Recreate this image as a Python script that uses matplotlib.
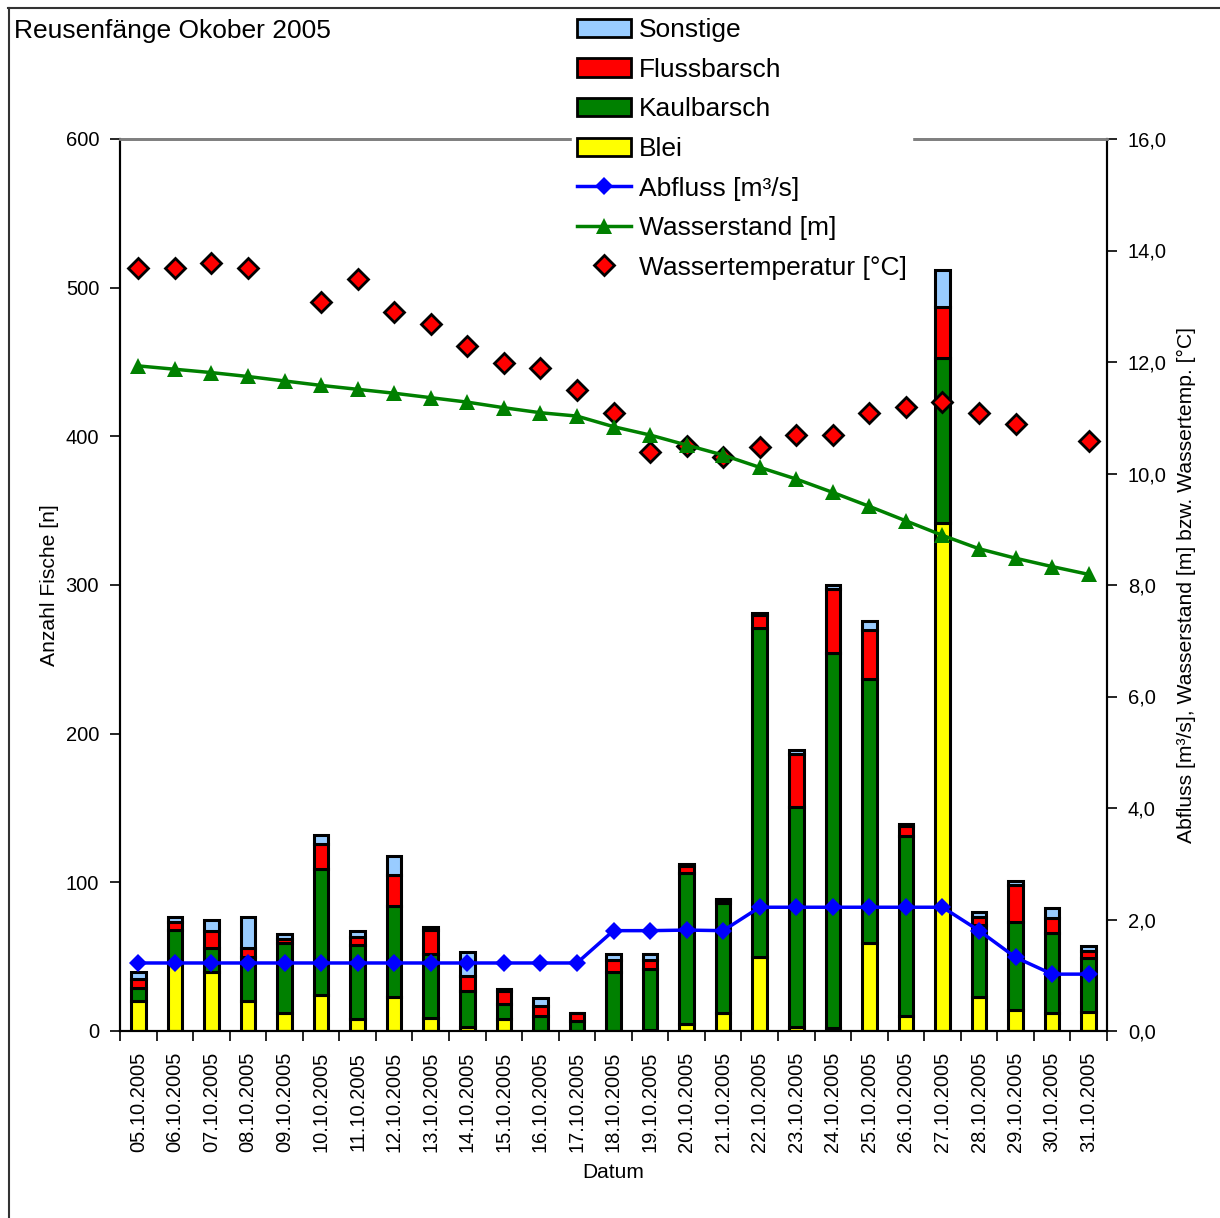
import matplotlib
matplotlib.use("Agg")
import matplotlib.pyplot as plt
import numpy as np
from matplotlib.lines import Line2D
from matplotlib.patches import Patch
from matplotlib.ticker import FuncFormatter, MultipleLocator

plt.rcParams['font.family'] = ['Liberation Sans', 'DejaVu Sans']

# --- Data ---
dates = ["05.10.2005", "06.10.2005", "07.10.2005", "08.10.2005", "09.10.2005",
         "10.10.2005", "11.10.2005", "12.10.2005", "13.10.2005", "14.10.2005",
         "15.10.2005", "16.10.2005", "17.10.2005", "18.10.2005", "19.10.2005",
         "20.10.2005", "21.10.2005", "22.10.2005", "23.10.2005", "24.10.2005",
         "25.10.2005", "26.10.2005", "27.10.2005", "28.10.2005", "29.10.2005",
         "30.10.2005", "31.10.2005"]

blei = [20, 45, 40, 20, 12, 24, 8, 23, 9, 3, 8, 0, 0, 0, 1, 5, 12, 50, 3, 2,
        59, 10, 342, 23, 14, 12, 13]
kaulbarsch = [9, 23, 16, 30, 47, 85, 50, 61, 43, 24, 10, 10, 7, 40, 41, 101, 74,
              221, 148, 252, 178, 121, 111, 48, 59, 54, 36]
flussbarsch = [6, 5, 11, 6, 3, 17, 5, 21, 16, 10, 9, 7, 5, 8, 6, 5, 2, 9, 35, 43,
               33, 7, 34, 6, 25, 10, 5]
sonstige = [5, 4, 8, 21, 3, 6, 4, 13, 2, 16, 1, 5, 0, 4, 4, 1, 1, 1, 3, 3, 6, 1,
            25, 3, 3, 7, 3]

abfluss = [1.22, 1.22, 1.22, 1.22, 1.22, 1.22, 1.22, 1.22, 1.22, 1.22, 1.22,
           1.22, 1.22, 1.80, 1.80, 1.81, 1.80, 2.22, 2.22, 2.22, 2.22, 2.22,
           2.22, 1.80, 1.32, 1.02, 1.02]
wasserstand = [11.93, 11.87, 11.81, 11.74, 11.66, 11.58, 11.51, 11.44, 11.36,
               11.28, 11.18, 11.09, 11.03, 10.84, 10.69, 10.51, 10.33, 10.11,
               9.90, 9.66, 9.41, 9.15, 8.89, 8.65, 8.48, 8.33, 8.19]
temperatur = [13.69, 13.69, 13.78, 13.69, np.nan, 13.08, 13.49, 12.89, 12.68,
              12.29, 11.99, 11.89, 11.50, 11.09, 10.39, 10.49, 10.29, 10.48,
              10.69, 10.69, 11.08, 11.20, 11.29, 11.08, 10.89, np.nan, 10.59]

species = [("Blei", blei, "#FFFF00"),
           ("Kaulbarsch", kaulbarsch, "#008000"),
           ("Flussbarsch", flussbarsch, "#FF0000"),
           ("Sonstige", sonstige, "#99CCFF")]

W, H = 1220, 1218
fig = plt.figure(figsize=(W / 100, H / 100), dpi=100)
ax = fig.add_axes([120 / W, 1 - 1031 / H, (1107 - 120) / W, (1031 - 139) / H])
ax2 = ax.twinx()

x = np.arange(len(dates))

# stacked bars
bottom = np.zeros(len(dates))
for name, vals, col in species:
    ax.bar(x, vals, 0.4, bottom=bottom, color=col, edgecolor="black",
           linewidth=2.2, zorder=2)
    bottom += np.array(vals)

# lines on the right axis
ax2.plot(x, temperatur, linestyle="none", marker="D", markersize=10,
         markerfacecolor="#FF0000", markeredgecolor="black",
         markeredgewidth=2, zorder=3)
ax2.plot(x, abfluss, color="#0000FF", linewidth=2.5, marker="D",
         markersize=9.5, markeredgewidth=0, zorder=4)
ax2.plot(x, wasserstand, color="#008000", linewidth=2.5, marker="^",
         markersize=11, markeredgewidth=0, zorder=5)

# axes styling
ax.set_xlim(-0.5, len(dates) - 0.5)
ax.set_ylim(0, 600)
ax2.set_ylim(0, 16)
ax.yaxis.set_major_locator(MultipleLocator(100))
ax2.yaxis.set_major_locator(MultipleLocator(2))
ax2.yaxis.set_major_formatter(FuncFormatter(lambda v, p: f"{v:.1f}".replace(".", ",")))

ax.set_xticks(x)
ax.set_xticklabels(dates, rotation=90)
ax.set_xticks(np.arange(-0.5, len(dates)), minor=True)
ax.tick_params(axis="x", which="major", length=0, pad=15, labelsize=14.5)
ax.tick_params(axis="x", which="minor", length=7, width=1.2, direction="out")
ax.tick_params(axis="y", length=7, width=1.2, direction="out", pad=8, labelsize=14.5)
ax2.tick_params(axis="y", length=7, width=1.2, direction="out", pad=8, labelsize=14.5)

for a in (ax, ax2):
    a.spines["top"].set_color("#808080")
    a.spines["top"].set_linewidth(2)
    a.spines["left"].set_linewidth(1.5)
    a.spines["right"].set_linewidth(1.5)
    a.spines["bottom"].set_linewidth(1.5)

ax.set_xlabel("Datum", fontsize=15, labelpad=8)
ax.set_ylabel("Anzahl Fische [n]", fontsize=15.2, labelpad=5)
ax2.set_ylabel("Abfluss [m³/s], Wasserstand [m] bzw. Wassertemp. [°C]",
               fontsize=15.2, labelpad=7)

# title and border
fig.text(14 / W, 1 - 31 / H, "Reusenfänge Okober 2005", fontsize=19,
         ha="left", va="center")
fig.add_artist(Line2D([8 / W, 1.0], [1 - 8 / H, 1 - 8 / H], color="#333333",
                      linewidth=1.5, transform=fig.transFigure))
fig.add_artist(Line2D([9 / W, 9 / W], [1 - 8 / H, 0.0], color="#333333",
                      linewidth=1.5, transform=fig.transFigure))

# legend
handles = [Patch(facecolor="#99CCFF", edgecolor="black", linewidth=2),
           Patch(facecolor="#FF0000", edgecolor="black", linewidth=2),
           Patch(facecolor="#008000", edgecolor="black", linewidth=2),
           Patch(facecolor="#FFFF00", edgecolor="black", linewidth=2),
           Line2D([], [], color="#0000FF", linewidth=2.5, marker="D",
                  markersize=9.5, markeredgewidth=0),
           Line2D([], [], color="#008000", linewidth=2.5, marker="^",
                  markersize=11, markeredgewidth=0),
           Line2D([], [], linestyle="none", marker="D", markersize=10,
                  markerfacecolor="#FF0000", markeredgecolor="black",
                  markeredgewidth=2)]
labels = ["Sonstige", "Flussbarsch", "Kaulbarsch", "Blei", "Abfluss [m³/s]",
          "Wasserstand [m]", "Wassertemperatur [°C]"]
leg = fig.legend(handles, labels, loc="upper left",
                 bbox_to_anchor=(572 / W, 1 - 13 / H), fontsize=19,
                 frameon=True, fancybox=False, framealpha=1,
                 edgecolor="white", facecolor="white", handlelength=2.05,
                 handletextpad=0.3, labelspacing=0.59, borderpad=0.2,
                 borderaxespad=0)
leg.set_zorder(10)

fig.savefig("out.png", dpi=100)
